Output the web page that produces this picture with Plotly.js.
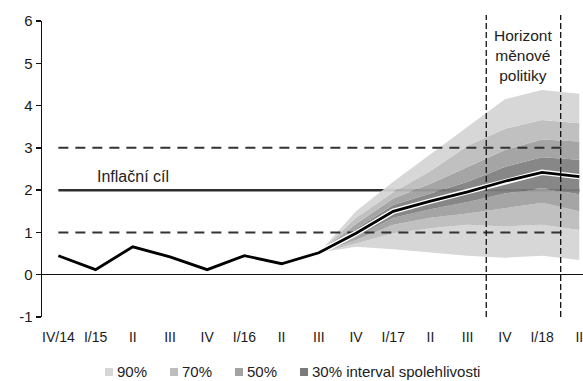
<!DOCTYPE html>
<html><head><meta charset="utf-8">
<script src="https://cdn.plot.ly/plotly-3.0.1.min.js"></script>
<style>html,body{margin:0;padding:0;background:#fff}#chart{width:583px;height:381px}</style>
</head><body><div id="chart"></div>
<script>
// ---- data ----
const quarters = ['IV/14','I/15','II','III','IV','I/16','II','III','IV','I/17','II','III','IV','I/18','II'];
const inflation = [0.45,0.12,0.66,0.42,0.12,0.45,0.26,0.52,0.98,1.5,1.74,1.96,2.21,2.42,2.32];
const fanIdx  = [7,8,9,10,11,12,13,14];
const upper90 = [0.52,1.5,2.2,2.85,3.5,4.15,4.37,4.28];
const upper70 = [0.52,1.35,1.95,2.45,3.05,3.45,3.66,3.58];
const upper50 = [0.52,1.2,1.8,2.15,2.55,2.95,3.2,3.15];
const upper30 = [0.52,1.08,1.65,1.92,2.2,2.55,2.78,2.72];
const lower30 = [0.52,0.9,1.35,1.55,1.72,1.92,2.05,1.9];
const lower50 = [0.52,0.82,1.18,1.35,1.45,1.58,1.7,1.5];
const lower70 = [0.52,0.74,0.98,1.1,1.18,1.14,1.18,1.06];
const lower90 = [0.52,0.66,0.6,0.52,0.45,0.4,0.45,0.35];
const bandLabels = ['90%','70%','50%','30% interval spolehlivosti'];
const bandFill = ['rgba(212,212,212,0.93)','rgba(187,187,187,0.93)','rgba(158,158,158,0.93)','rgba(126,126,126,0.93)'];
const bandSwatch = ['#d6d6d6','#bdbdbd','#a2a2a2','#7a7a7a'];
const inflationTarget = 2;
const toleranceBand = [1,3];
const toleranceEnd = 13.7;
const horizonBounds = [11.5,13.5];
const targetLabel = 'Inflační cíl';
const horizonLabel = 'Horizont<br>měnové<br>politiky';
const yTickVals = [-1,0,1,2,3,4,5,6];
const yTickText = ['-1','0','1','2','3','4','5','6'];

// ---- build ----
const idx = quarters.map((_,i)=>i);
const FONT = 'Liberation Sans, Arial, sans-serif';
const traces = [];
traces.push({x:[idx[0],idx[idx.length-1]], y:[inflationTarget,inflationTarget], mode:'lines',
  line:{color:'#2e2e2e',width:2.5}, hoverinfo:'skip'});
const bandSeq = [
  [lower90,null],[lower70,bandFill[0]],[lower50,bandFill[1]],[lower30,bandFill[2]],
  [upper30,bandFill[3]],[upper50,bandFill[2]],[upper70,bandFill[1]],[upper90,bandFill[0]]
];
bandSeq.forEach(([ys,fc])=>{
  const t = {x:fanIdx, y:ys, mode:'lines', line:{width:0}, hoverinfo:'skip'};
  if (fc) { t.fill='tonexty'; t.fillcolor=fc; }
  traces.push(t);
});
toleranceBand.forEach(v=>{
  traces.push({x:[idx[0],toleranceEnd], y:[v,v], mode:'lines',
    line:{color:'#333',width:2,dash:'10px,7px'}, hoverinfo:'skip'});
});
traces.push({x:idx, y:inflation, mode:'lines', line:{color:'#fff',width:5.5}, hoverinfo:'skip'});
traces.push({x:idx, y:inflation, mode:'lines', line:{color:'#000',width:2.8}, hoverinfo:'skip'});

const W=583,H=381,ML=42,MR=0,MT=21,MB=64;
const pw=W-ML-MR, ph=H-MT-MB;
const px2x = p => (p-ML)/pw;
const px2y = p => (H-MB-p)/ph;

const shapes = horizonBounds.map(b=>({type:'line', xref:'x', yref:'paper', x0:b, x1:b, y0:0, y1:px2y(15),
  line:{color:'#111',width:1.3,dash:'6px,3px'}}));
const annotations = [
  {x:2, y:2.32, xref:'x', yref:'y', text:targetLabel, showarrow:false, yanchor:'middle',
   font:{family:FONT,size:16,color:'#222'}},
  {x:(horizonBounds[0]+horizonBounds[1])/2, y:5.18, xref:'x', yref:'y', text:horizonLabel, showarrow:false,
   yanchor:'middle', font:{family:FONT,size:15.5,color:'#222'}}
];
const legSq = [105,170,235,300];
bandLabels.forEach((lab,i)=>{
  shapes.push({type:'rect', xref:'paper', yref:'paper', x0:px2x(legSq[i]), x1:px2x(legSq[i]+8),
    y0:px2y(376), y1:px2y(368), line:{width:0}, fillcolor:bandSwatch[i]});
  annotations.push({xref:'paper', yref:'paper', x:px2x(legSq[i]+10), y:px2y(371), xanchor:'left', yanchor:'middle',
    text:lab, showarrow:false, font:{family:FONT,size:15,color:'#222'}});
});

const layout = {
  width:W, height:H, margin:{l:ML,r:MR,t:MT,b:MB},
  paper_bgcolor:'#fff', plot_bgcolor:'#fff', showlegend:false,
  font:{family:FONT,color:'#222'},
  xaxis:{range:[-0.44,14.1], tickmode:'array', tickvals:idx, ticktext:quarters, showgrid:false, zeroline:false,
    showline:false, ticks:'', ticklabelstandoff:10, ticklabeloverflow:'allow',
    tickfont:{family:FONT,size:14,color:'#1a1a1a'}},
  yaxis:{range:[-1,6], tickmode:'array', tickvals:yTickVals, ticktext:yTickText, showgrid:false,
    zeroline:true, zerolinecolor:'#111', zerolinewidth:1.3, showline:true, linecolor:'#111', linewidth:1.5,
    ticks:'outside', ticklen:5, tickwidth:1.5, tickcolor:'#111', tickfont:{family:FONT,size:15,color:'#1a1a1a'}},
  shapes, annotations
};
Plotly.newPlot('chart', traces, layout, {staticPlot:true, displayModeBar:false});
</script></body></html>
